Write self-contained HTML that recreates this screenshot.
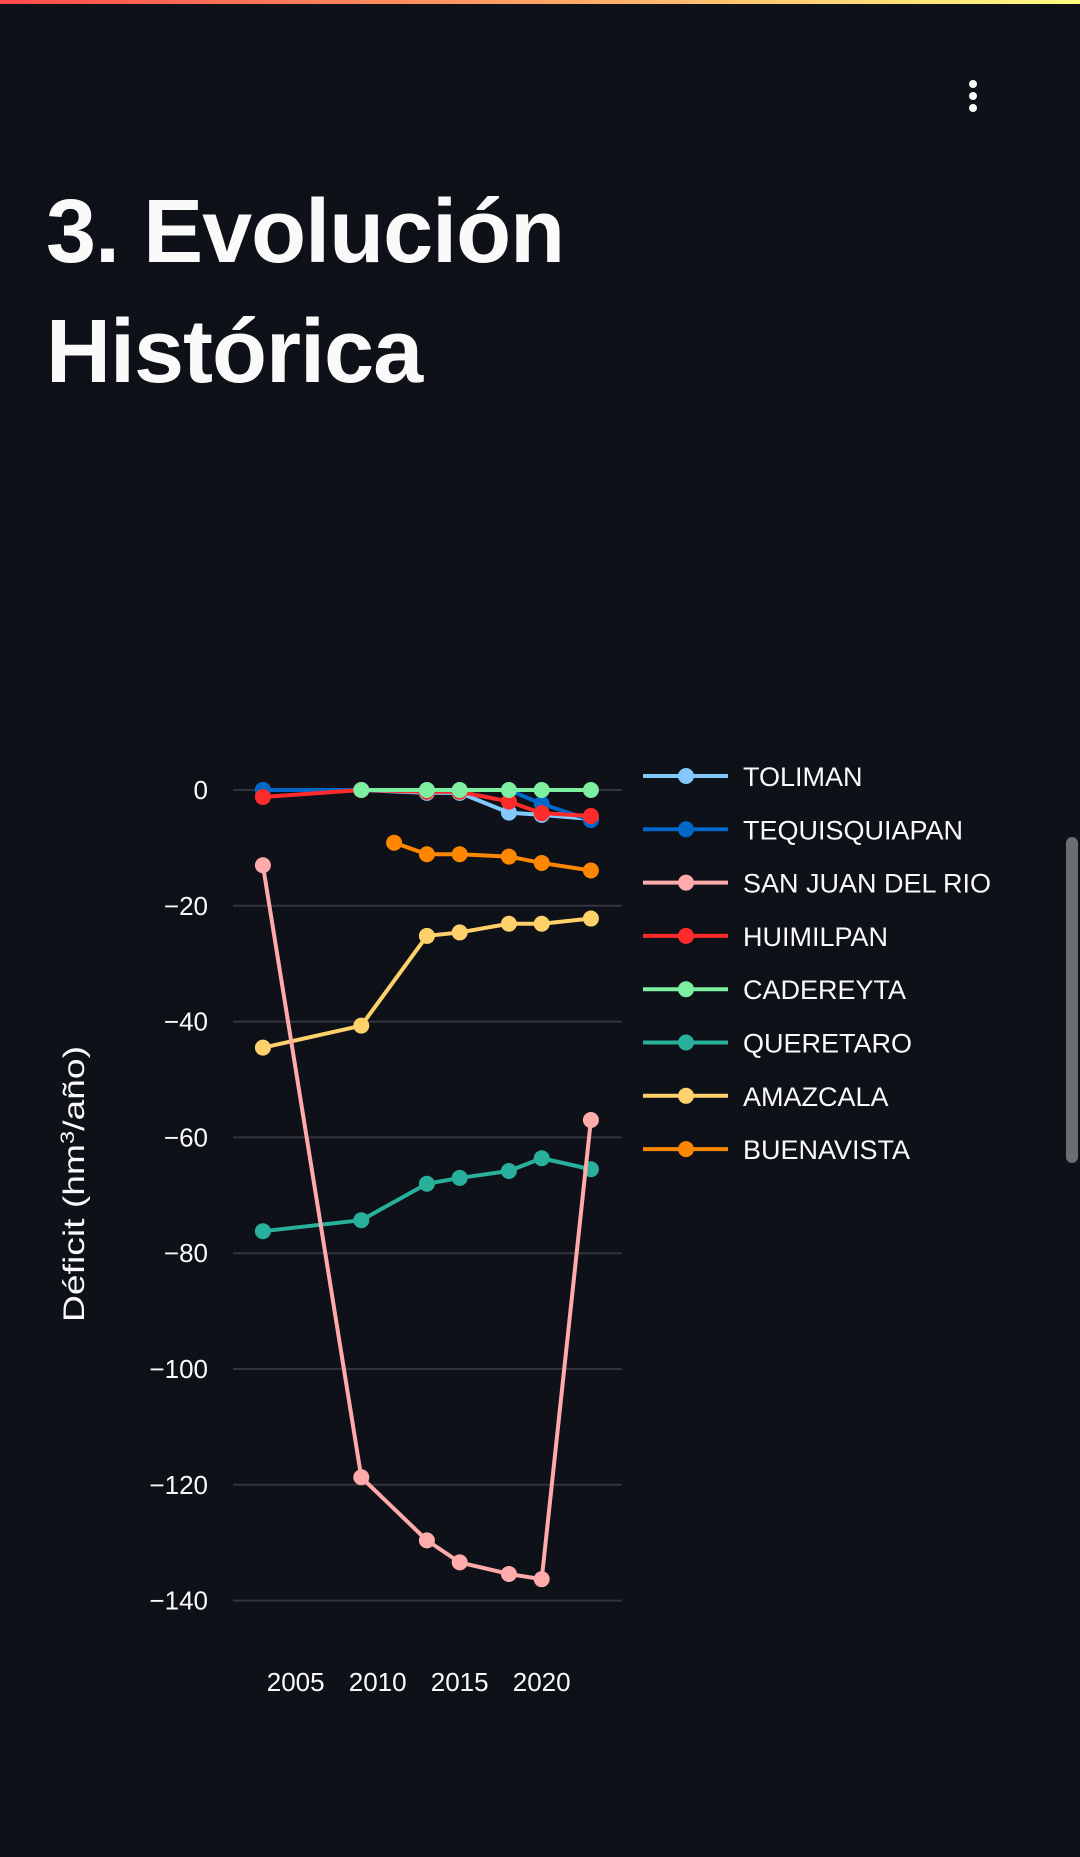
<!DOCTYPE html>
<html><head><meta charset="utf-8"><style>
html,body{margin:0;padding:0;background:#0e1117;width:1080px;height:1857px;overflow:hidden;font-family:"Liberation Sans",sans-serif;}
#topbar{position:absolute;left:0;top:0;width:1080px;height:4px;background:linear-gradient(90deg,#ff4b4b,#fffd80);}
#title{position:absolute;left:46px;top:172px;color:#fafafa;font-weight:bold;font-size:90px;line-height:120px;letter-spacing:-1px;margin:0;}
#menu{position:absolute;left:966px;top:80px;width:14px;height:40px;}
#menu span{display:block;width:8px;height:8px;border-radius:50%;background:#fafafa;margin:0 auto 4px;}
#scroll{position:absolute;left:1066px;top:837px;width:12px;height:326px;border-radius:6px;background:#6b6d73;}
svg{position:absolute;left:0;top:0;}
</style></head><body>
<div id="topbar"></div>
<div id="menu"><span></span><span></span><span></span></div>
<h1 id="title">3. Evolución<br>Histórica</h1>
<div id="scroll"></div>
<svg id="chart" width="1080" height="1857"></svg>
<script>
const years = [2003, 2009, 2013, 2015, 2018, 2020, 2023];
const seriesNames = ["TOLIMAN","TEQUISQUIAPAN","SAN JUAN DEL RIO","HUIMILPAN","CADEREYTA","QUERETARO","AMAZCALA","BUENAVISTA"];
const seriesColors = ["#83c9ff","#0068c9","#ffabab","#ff2b2b","#7defa1","#29b09d","#ffd16a","#ff8700"];
const toliman = [0, 0, -0.5, -0.5, -3.9, -4.3, -5.0];
const tequisquiapan = [0, 0, 0, 0, 0, -2.4, -5.2];
const sanJuan = [-13, -118.7, -129.6, -133.4, -135.4, -136.3, -57];
const huimilpan = [-1.2, 0, -0.3, -0.3, -2.0, -4.0, -4.5];
const cadereyta = [null, 0, 0, 0, 0, 0, 0];
const queretaro = [-76.2, -74.3, -68.0, -67.0, -65.8, -63.6, -65.5];
const amazcala = [-44.5, -40.7, -25.2, -24.6, -23.1, -23.1, -22.2];
const buenavistaYears = [2011, 2013, 2015, 2018, 2020, 2023];
const buenavista = [-9.1, -11.1, -11.1, -11.5, -12.6, -13.9];
const yTicks = [0, -20, -40, -60, -80, -100, -120, -140];
const xTicks = [2005, 2010, 2015, 2020];

const NS = "http://www.w3.org/2000/svg";
const svg = document.getElementById("chart");
const xScale = y => 295.7 + (y - 2005) * 16.4;
const yScale = v => 790 - v * 5.79;
function mk(tag, attrs, parent) {
  const e = document.createElementNS(NS, tag);
  for (const k in attrs) e.setAttribute(k, attrs[k]);
  (parent || svg).appendChild(e);
  return e;
}
yTicks.forEach(t => {
  const g = mk("line", {x1: 233, x2: 622, y1: yScale(t), y2: yScale(t), stroke: "#31333f", "stroke-width": 2});
  
  
  const tx = mk("text", {x: 208, y: yScale(t) + 9, "text-anchor": "end", fill: "#fafafa", "font-size": 26});
  tx.textContent = t === 0 ? "0" : "\u2212" + Math.abs(t);
  
  
});
xTicks.forEach(t => {
  const tx = mk("text", {x: xScale(t), y: 1691, "text-anchor": "middle", fill: "#fafafa", "font-size": 26});
  tx.textContent = t;
  
  
});
const yt = mk("text", {x: 0, y: 0, transform: "translate(84,1184) rotate(-90)", "text-anchor": "middle", fill: "#fafafa", "font-size": 30, textLength: 276, lengthAdjust: "spacingAndGlyphs"});
yt.innerHTML = 'Déficit (hm<tspan baseline-shift="super" font-size="19">3</tspan>/año)';



const allData = [toliman, tequisquiapan, sanJuan, huimilpan, cadereyta, queretaro, amazcala, buenavista];
const drawOrder = [5, 6, 2, 7, 0, 1, 3, 4];
drawOrder.forEach(i => {
  const xs = i === 7 ? buenavistaYears : years;
  const vals = allData[i];
  const pts = [];
  vals.forEach((v, j) => { if (v !== null) pts.push([xScale(xs[j]), yScale(v)]); });
  const g = mk("g", {});
  
  
  mk("polyline", {points: pts.map(p => p.join(",")).join(" "), fill: "none", stroke: seriesColors[i], "stroke-width": 4, "stroke-linejoin": "round"}, g);
  pts.forEach(p => {
    const c = mk("circle", {cx: p[0], cy: p[1], r: 8, fill: seriesColors[i]}, g);
    
    
  });
});
seriesNames.forEach((n, i) => {
  const y = 776 + i * 53.3;
  const g = mk("g", {});
  
  
  mk("line", {x1: 643, x2: 728, y1: y, y2: y, stroke: seriesColors[i], "stroke-width": 4}, g);
  mk("circle", {cx: 686, cy: y, r: 8, fill: seriesColors[i]}, g);
  const t = mk("text", {x: 743, y: y + 10, fill: "#fafafa", "font-size": 27}, g);
  t.textContent = n;
});
</script>
</body></html>
